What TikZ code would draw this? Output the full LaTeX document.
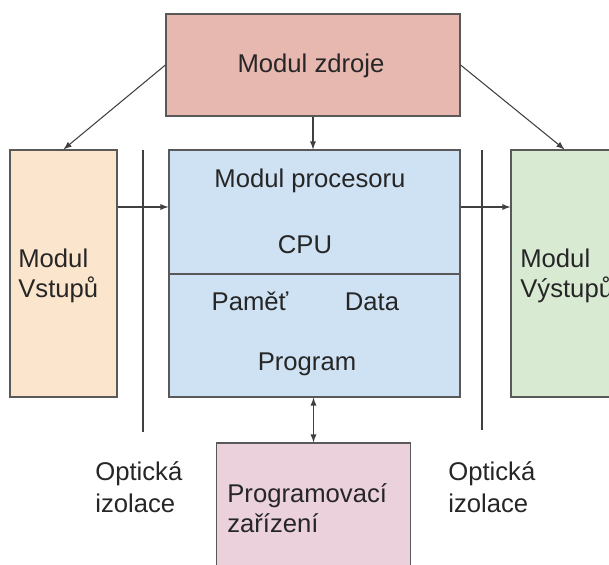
\documentclass[tikz,border=0pt]{standalone}
\usepackage{fontspec}
\setmainfont{Liberation Sans}
\usetikzlibrary{positioning,arrows}

\definecolor{zdrojfill}{HTML}{E6B8AF}
\definecolor{vstupfill}{HTML}{FCE5CD}
\definecolor{cpufill}{HTML}{CFE2F3}
\definecolor{vystupfill}{HTML}{D9EAD3}
\definecolor{progfill}{HTML}{EAD1DC}
\definecolor{edge}{HTML}{595959}

\tikzset{
  box/.style={draw=edge, line width=0.7pt, inner sep=0pt},
  txt/.style={font=\fontsize{14.6}{18}\selectfont, text=black!85, inner sep=0pt},
  wire/.style={draw=black!75, line width=0.6pt}
}

\begin{document}
\begin{tikzpicture}[x=0.02cm,y=-0.02cm]
	\useasboundingbox (0,0) rectangle (609,565);
	\clip (0,0) rectangle (609,565);

		% boxes
		\node[box, fill=zdrojfill, minimum width=5.88cm, minimum height=2.04cm] (zdroj) at (313,65) {};
		\node[box, fill=vstupfill, minimum width=2.14cm, minimum height=4.94cm] (vstup) at (63.5,273.5) {};
		\node[box, fill=cpufill, minimum width=5.82cm, minimum height=4.94cm] (cpu) at (314.5,273.5) {};
		\node[box, fill=vystupfill, minimum width=2.14cm, minimum height=4.94cm] (vystup) at (564.5,273.5) {};
		\node[box, fill=progfill, minimum width=3.88cm, minimum height=2.6cm] (prog) at (313.5,508) {};

		\draw[box] (cpu.west |- 0,274) -- (cpu.east |- 0,274);

		% texts
		\node[txt, anchor=base] (tzdroj) at (311,72) {Modul zdroje};
		\node[txt, anchor=base] (tproc) at (310,187) {Modul procesoru};
		\node[txt, anchor=base] (tcpu) at (305,253) {CPU};
		\node[txt, anchor=base] (tpamet) at (250,310) {Paměť};
		\node[txt, anchor=base] (tdata) at (372,310) {Data};
		\node[txt, anchor=base] (tprogram) at (307,370) {Program};

		\node[txt, anchor=base west] (tvstupA) at (18,267) {Modul};
		\node[txt, anchor=base west] (tvstupB) at (18,297) {Vstupů};
		\node[txt, anchor=base west] (tvystupA) at (520,267) {Modul};
		\node[txt, anchor=base west] (tvystupB) at (520,297) {Výstupů};

		\node[txt, anchor=base west] (tprogA) at (227,502) {Programovací};
		\node[txt, anchor=base west] (tprogB) at (227,532) {zařízení};

		\node[txt, anchor=base west] (toptLA) at (95,480) {Optická};
		\node[txt, anchor=base west] (toptLB) at (95,512) {izolace};
		\node[txt, anchor=base west] (toptRA) at (448,480) {Optická};
		\node[txt, anchor=base west] (toptRB) at (448,512) {izolace};

		% optical isolation
		\coordinate (isoLtop) at (143,150);
		\coordinate (isoLbot) at (143,432);
		\coordinate (isoRtop) at (482,150);
		\coordinate (isoRbot) at (482,430);
		\draw[wire] (isoLtop) -- (isoLbot);
		\draw[wire] (isoRtop) -- (isoRbot);

		% connectors
		\draw[wire, arrows={-latex}] (zdroj.west) -- (vstup.north);
		\draw[wire, arrows={-latex}] (zdroj.east) -- (vystup.north);
		\draw[wire, arrows={-latex}] (zdroj.south) -- (zdroj.south |- cpu.north);
		\draw[wire, arrows={-latex}] (vstup.east |- 0,207) -- (cpu.west |- 0,207);
		\draw[wire, arrows={-latex}] (cpu.east |- 0,207) -- (vystup.west |- 0,207);
		\draw[wire, arrows={latex-latex}] (prog.north |- cpu.south) -- (prog.north);
	\end{tikzpicture}
\end{document}
